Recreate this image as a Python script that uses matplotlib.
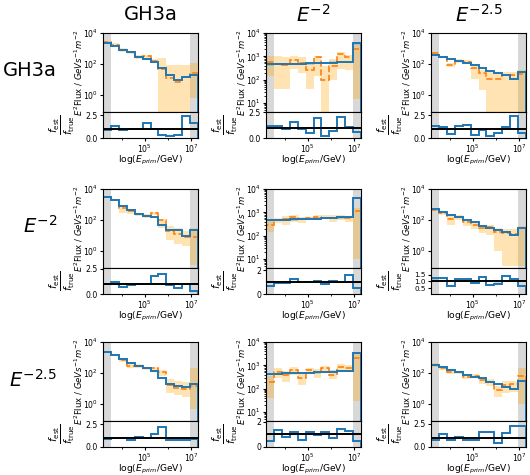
import numpy as np
import matplotlib.pyplot as plt
from matplotlib.ticker import NullFormatter

# bin edges in log10(E/GeV)
log_edges = np.linspace(3.2, 7.28, 13)
edges = 10 ** log_edges

col_titles = ["GH3a", r"$E^{-2}$", r"$E^{-2.5}$"]
row_titles = ["GH3a", r"$E^{-2}$", r"$E^{-2.5}$"]

# row 1
true_11 = [2400, 1500, 850, 560, 300, 200, 140, 55, 20, 9, 14, 20]
est_11 = [2600, 1800, 800, 600, 300, 320, 150, 50, 12, 7, 14, 28]
lo_11 = [2000, 1400, 600, 450, 220, 200, 110, 1e-3, 1e-3, 1e-3, 1e-3, 0.6]
hi_11 = [3200, 2200, 1000, 700, 380, 400, 200, 250, 80, 80, 80, 110]
ratio_11 = [0.92, 1.26, 0.85, 1.0, 1.0, 1.6, 0.95, 0.35, 0.25, 0.3, 2.4, 1.6]

true_12 = [450, 460, 470, 480, 490, 500, 510, 520, 540, 560, 580, 3600]
est_12 = [550, 480, 420, 700, 500, 250, 920, 100, 400, 1250, 900, 2000]
lo_12 = [150, 40, 40, 300, 200, 40, 150, 1, 100, 300, 250, 15]
hi_12 = [1000, 1000, 900, 1000, 900, 600, 1000, 400, 800, 1500, 1200, 3000]
ratio_12 = [1.12, 1.12, 0.89, 1.54, 0.9, 0.46, 1.88, 0.16, 0.65, 2.04, 1.05, 0.55]

true_13 = [380, 290, 200, 160, 110, 90, 52, 37, 28, 20, 10, 31]
est_13 = [490, 290, 87, 150, 140, 52, 25, 10, 10, 20, 20, 22]
lo_13 = [400, 230, 60, 110, 100, 10, 2, 0.01, 0.01, 0.01, 0.01, 0.01]
hi_13 = [600, 350, 120, 200, 180, 80, 40, 30, 30, 30, 30, 40]
ratio_13 = [1.27, 1.2, 0.45, 1.27, 1.49, 0.35, 0.9, 0.25, 0.5, 1.2, 2.4, 0.55]

# row 2
true_21 = [2900, 1860, 760, 460, 245, 175, 150, 48, 23, 23, 9, 23]
est_21 = [2900, 2000, 560, 400, 240, 180, 270, 95, 20, 13, 8, 8]
lo_21 = [2500, 1700, 300, 250, 180, 140, 200, 30, 5, 3, 2, 0.12]
hi_21 = [3300, 2300, 800, 500, 300, 230, 330, 120, 40, 30, 20, 30]
ratio_21 = [1.02, 1.17, 0.73, 0.86, 0.95, 1.0, 1.81, 2.0, 0.86, 0.55, 0.95, 0.32]

true_22 = [470, 480, 490, 500, 510, 520, 540, 560, 580, 610, 640, 4000]
est_22 = [300, 470, 520, 640, 520, 550, 660, 600, 600, 660, 550, 1100]
lo_22 = [150, 350, 300, 400, 350, 450, 450, 500, 400, 450, 400, 10]
hi_22 = [450, 600, 700, 800, 650, 650, 800, 750, 750, 800, 700, 1500]
ratio_22 = [0.69, 0.97, 0.97, 1.24, 1.0, 1.0, 1.1, 0.88, 1.1, 1.0, 1.65, 0.47]

true_23 = [490, 315, 210, 150, 100, 70, 43, 29, 22, 16, 10, 32]
est_23 = [450, 270, 110, 150, 70, 45, 32, 35, 17, 14, 12, 30]
lo_23 = [380, 220, 50, 100, 40, 25, 15, 10, 1, 0.1, 0.1, 0.1]
hi_23 = [550, 330, 200, 200, 100, 60, 45, 45, 30, 25, 25, 40]
ratio_23 = [1.22, 1.27, 0.68, 1.2, 1.2, 0.92, 1.31, 0.72, 0.85, 1.38, 1.2, 0.68]

# row 3
true_31 = [2400, 1450, 760, 420, 285, 200, 140, 50, 20, 15, 12, 19]
est_31 = [2200, 1450, 740, 300, 300, 200, 200, 110, 16, 11, 9, 15]
lo_31 = [1900, 1200, 500, 200, 220, 150, 130, 60, 5, 4, 3, 0.5]
hi_31 = [2600, 1700, 900, 450, 380, 250, 260, 150, 40, 30, 25, 200]
ratio_31 = [0.9, 1.0, 0.97, 0.72, 1.07, 1.0, 1.43, 2.24, 0.79, 0.72, 0.72, 0.9]

true_32 = [430, 440, 450, 460, 470, 480, 500, 520, 540, 560, 580, 3500]
est_32 = [200, 540, 400, 630, 300, 630, 540, 740, 400, 870, 800, 2000]
lo_32 = [40, 300, 200, 400, 150, 450, 300, 500, 250, 600, 550, 30]
hi_32 = [350, 800, 600, 850, 500, 800, 700, 950, 600, 1100, 1000, 3000]
ratio_32 = [0.44, 1.35, 0.78, 1.22, 0.52, 1.16, 0.96, 1.16, 0.73, 1.43, 1.3, 0.44]

true_33 = [330, 260, 160, 120, 74, 58, 45, 28, 19, 13, 9, 30]
est_33 = [330, 200, 120, 110, 58, 65, 35, 28, 8.5, 16, 19, 65]
lo_33 = [250, 150, 80, 80, 40, 45, 20, 15, 3, 5, 6, 1]
hi_33 = [420, 250, 160, 140, 80, 85, 50, 40, 15, 30, 30, 200]
ratio_33 = [0.7, 1.4, 0.8, 1.04, 0.78, 0.78, 1.56, 1.56, 0.46, 1.5, 2.26, 2.26]

panels = [
    [(true_11, est_11, lo_11, hi_11, ratio_11),
     (true_12, est_12, lo_12, hi_12, ratio_12),
     (true_13, est_13, lo_13, hi_13, ratio_13)],
    [(true_21, est_21, lo_21, hi_21, ratio_21),
     (true_22, est_22, lo_22, hi_22, ratio_22),
     (true_23, est_23, lo_23, hi_23, ratio_23)],
    [(true_31, est_31, lo_31, hi_31, ratio_31),
     (true_32, est_32, lo_32, hi_32, ratio_32),
     (true_33, est_33, lo_33, hi_33, ratio_33)],
]

ratio_ylims = [[(0, 2.83), (0, 2.5), (0, 2.87)],
               [(0, 2.55), (0, 2.2), (0.1, 1.97)],
               [(0, 2.85), (0, 2.07), (0, 2.78)]]
ratio_ticks = [[[0, 2.5], [0, 2.5], [0, 2.5]],
               [[0, 2.5], [0, 2], [0.5, 1.0, 1.5]],
               [[0, 2.5], [0, 2], [0, 2.5]]]
main_ylims = [(10 ** -1.1, 1e4), (10 ** 0.62, 1e4), (10 ** -1.1, 1e4)]

W, H = 530, 475
fig = plt.figure(figsize=(5.3, 4.75), dpi=100)

col_left = [103, 266, 431]
row_top = [33, 189, 342]
ax_w = 95
main_h = 79
ratio_h = 26

blue = "#1f77b4"
orange = "#ff7f0e"

for r in range(3):
    for c in range(3):
        true, est, lo, hi, ratio = panels[r][c]
        x0 = col_left[c] / W
        top = row_top[r]
        ax = fig.add_axes([x0, 1 - (top + main_h) / H, ax_w / W, main_h / H])
        axr = fig.add_axes([x0, 1 - (top + main_h + ratio_h) / H, ax_w / W, ratio_h / H])

        for a in (ax, axr):
            a.set_xscale("log")
            a.set_xlim(edges[0], edges[-1])
            a.axvspan(edges[0], edges[1], color="gray", alpha=0.3, lw=0)
            a.axvspan(edges[-2], edges[-1], color="gray", alpha=0.3, lw=0)
            a.tick_params(which="both", labelsize=5.6, pad=1)
            a.tick_params(which="major", length=2.5)
            a.tick_params(which="minor", length=1.5)
            a.tick_params(axis="x", pad=0.5)
            a.set_xticks([1e5, 1e7])
            a.set_xticks([1e4, 1e6], minor=True)
            a.xaxis.set_minor_formatter(NullFormatter())

        ax.set_yscale("log")
        ax.stairs(hi, edges, baseline=lo, fill=True, color="orange", alpha=0.3, lw=0)
        ax.stairs(np.array(true) * 1.12, edges, baseline=np.array(true) / 1.12,
                  fill=True, color=blue, alpha=0.25, lw=0)
        ax.stairs(est, edges, color=orange, ls="--", lw=1.2)
        ax.stairs(true, edges, color=blue, lw=1.4)
        ax.set_ylim(*main_ylims[c])
        ax.yaxis.set_minor_formatter(NullFormatter())
        ax.tick_params(labelbottom=False)
        ax.set_ylabel(r"$E^2$Flux / $GeVs^{-1}m^{-2}$", fontsize=6.1)
        ax.yaxis.set_label_coords(-0.19, 0.5)

        axr.stairs(np.array(ratio) + 0.08, edges, baseline=np.array(ratio) - 0.08,
                   fill=True, color=blue, alpha=0.25, lw=0)
        axr.stairs(ratio, edges, color=blue, lw=1.4)
        axr.axhline(1, color="black", lw=1.4)
        axr.set_ylim(*ratio_ylims[r][c])
        ticks = ratio_ticks[r][c]
        axr.set_yticks(ticks)
        if c == 1 and r > 0:
            axr.set_yticklabels([f"{t:g}" for t in ticks])
        else:
            axr.set_yticklabels([f"{t:.1f}" for t in ticks])
        if len(ticks) == 3:
            axr.tick_params(axis="y", labelsize=5.2)
        axr.set_ylabel(r"$\frac{f_{\mathrm{est}}}{f_{\mathrm{true}}}$", fontsize=10.5)
        axr.yaxis.set_label_coords(-0.27, 0.5)
        axr.set_xlabel(r"log($E_{prim}$/GeV)", fontsize=6.6)
        axr.xaxis.set_label_coords(0.5, -0.6)

for c in range(3):
    fig.text((col_left[c] + ax_w / 2) / W, 1 - 15 / H, col_titles[c],
             ha="center", va="center", fontsize=14)
row_y = [71, 226, 380]
for r in range(3):
    fig.text(57 / W, 1 - row_y[r] / H, row_titles[r], ha="right", va="center", fontsize=14)

fig.savefig("out.png", dpi=100)
